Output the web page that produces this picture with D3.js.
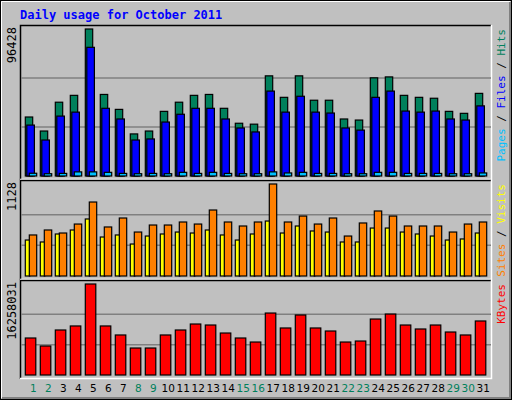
<!DOCTYPE html><html><head><script src="https://cdn.jsdelivr.net/npm/d3@7"></script>
<style>body{margin:0;background:#fff}</style></head><body><svg id="c" width="512" height="400"></svg>
<script>
const days = d3.range(1,32);
const weekends = [1,2,8,9,15,16,22,23,29,30];
const hits  = [38700,29500,48400,52900,96428,53500,43700,27600,29500,42400,48400,52900,53500,44400,34600,34000,65700,51600,65700,49700,49700,37400,36700,64400,65000,52900,51600,51000,42400,41100,54200];
const files = [33400,23600,39300,41900,84400,44400,37400,23600,24300,35400,40500,44400,44400,37400,31500,28900,55700,41900,52300,41900,41300,31500,30100,51600,55700,42600,41900,42600,37400,36700,46000];
const pages = [1800,1500,1700,2700,2700,2400,1700,1500,1700,1500,2400,1700,2400,1700,1500,1500,2700,2000,2400,1700,1700,1500,1500,2400,2400,1700,1700,1700,1500,1500,2000];
const visits = [503,564,527,637,907,601,711,539,625,625,662,637,809,662,613,662,1128,662,735,637,711,490,650,797,735,613,613,613,539,637,662];
const sites  = [441,417,515,564,699,478,503,392,490,515,539,527,564,503,441,515,674,527,613,552,539,417,417,588,588,539,515,490,441,454,527];
const kbytes = [6610000,5180000,8040000,8760000,16258031,8760000,7150000,4820000,4820000,7150000,8040000,9110000,8930000,7500000,6610000,5890000,11070000,8400000,10720000,8400000,7860000,5890000,6070000,10000000,10890000,8930000,8220000,8930000,7680000,7150000,9650000];

const svg = d3.select('#c');
const F = "'DejaVu Sans Mono', monospace";
svg.append('rect').attr('x',0).attr('y',0).attr('width',512).attr('height',400).attr('fill','#c0c0c0');
svg.append('rect').attr('x',0.5).attr('y',0.5).attr('width',511).attr('height',399).attr('fill','none').attr('stroke','#000');
svg.append('path').attr('d','M2,398H510V2').attr('fill','none').attr('stroke','#808080').attr('stroke-width',2);
svg.append('path').attr('d','M1.5,398V1.5H510').attr('fill','none').attr('stroke','#fff');
svg.append('text').attr('x',20).attr('y',19).attr('fill','#0000ff').attr('font-family',F).attr('font-weight','bold').attr('font-size',12).text('Daily usage for October 2011');

const x = d3.scaleLinear().domain([1,31]).range([25.3,475.3]);

function panel(y0,y1,base,top,max,series,label,labels){
  svg.append('rect').attr('x',20).attr('y',y0).attr('width',471).attr('height',y1-y0).attr('fill','#c0c0c0');
  svg.append('path').attr('d',`M20.5,${y1}V${y0+0.5}H491`).attr('fill','none').attr('stroke','#000').attr('stroke-width',1.5);
  svg.append('path').attr('d',`M20,${y1-0.5}H491.5V${y0}`).attr('fill','none').attr('stroke','#fff').attr('stroke-width',1.5);
  const y = d3.scaleLinear().domain([0,max]).range([base,top]);
  [1/3,2/3].forEach(f=>svg.append('line').attr('x1',21).attr('x2',491).attr('y1',y(max*f)).attr('y2',y(max*f)).attr('stroke','#808080').attr('stroke-width',1.5));
  series.forEach(s=>{
    svg.append('g').selectAll('rect').data(s.data).join('rect')
      .attr('x',(d,i)=>x(i+1)+s.off).attr('width',s.w)
      .attr('y',d=>y(d)).attr('height',d=>base-y(d))
      .attr('fill',s.color).attr('stroke','#000').attr('stroke-width',1.2);
  });
  svg.append('text').attr('transform',`translate(16,${top-2}) rotate(-90)`).attr('text-anchor','end')
    .attr('font-family',F).attr('font-size',12).attr('fill','#000').text(label);
  const t = svg.append('text').attr('transform',`translate(505,${top}) rotate(-90)`).attr('text-anchor','end').attr('font-family',F).attr('font-size',11);
  labels.forEach((l,i)=>{ t.append('tspan').attr('fill',l[1]).text(l[0]); });
}
panel(25,180,176,29,96428,[
  {data:hits,color:'#00805c',off:0,w:7.4},
  {data:files,color:'#0000ff',off:1.5,w:7.6},
  {data:pages,color:'#00c0ff',off:4,w:7.4}],'96428',
  [['Pages','#00c0ff'],[' / ','#000'],['Files','#0000ff'],[' / ','#000'],['Hits','#00805c']]);
panel(180,280,276,184,1128,[
  {data:sites,color:'#ffff00',off:0,w:4.5},
  {data:visits,color:'#ff8000',off:4,w:7.4}],'1128',
  [['Sites','#ff8000'],[' / ','#000'],['Visits','#ffff00']]);
panel(280,379,375,284,16258031,[
  {data:kbytes,color:'#ff0000',off:0,w:10.5}],'16258031',
  [['KBytes','#ff0000']]);
svg.append('g').selectAll('text').data(days).join('text')
  .attr('x',d=>x(d)+8).attr('y',392).attr('text-anchor','middle')
  .attr('font-family','DejaVu Sans, sans-serif').attr('font-size',10.5)
  .attr('fill',d=>weekends.includes(d)?'#00805c':'#000').text(d=>d);
</script></body></html>
